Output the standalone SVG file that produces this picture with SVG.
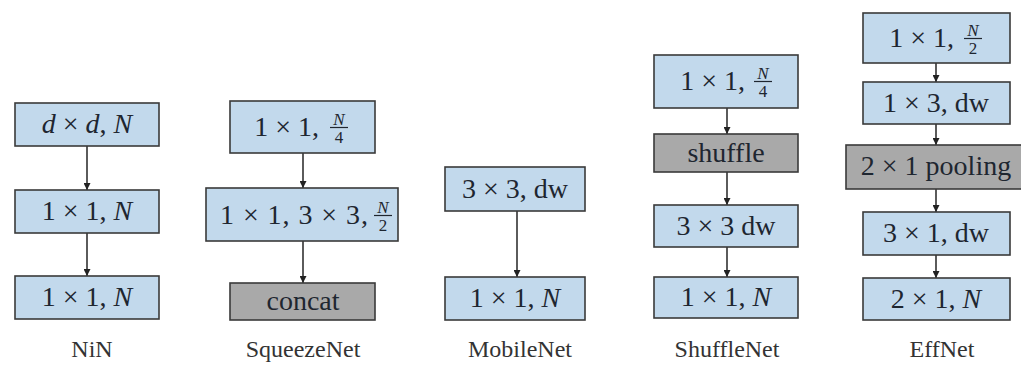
<svg xmlns="http://www.w3.org/2000/svg" width="1021" height="369" viewBox="0 0 1021 369" font-family="Liberation Serif, DejaVu Serif, Times New Roman, serif">
<defs>
<style>
text{fill:#1e2630}
.b{fill:#c2d9ec;stroke:#3a3a3a;stroke-width:1.6}
.g{fill:#a9a9a9;stroke:#3a3a3a;stroke-width:1.6}
.t{font-size:28px;text-anchor:middle}
.te{font-size:28px;text-anchor:end}
.f{font-size:17px;text-anchor:middle}
.i{font-style:italic}
.lb{font-size:24px;fill:#333;text-anchor:middle}
.fb{stroke:#1e2630;stroke-width:1.2}
.c{stroke:#333;stroke-width:1.6;fill:none;marker-end:url(#ah)}
</style>
<marker id="ah" viewBox="0 0 10 10" refX="10" refY="5" markerWidth="7" markerHeight="7" markerUnits="userSpaceOnUse" orient="auto">
<path d="M0,0 L10,5 L0,10 z" fill="#222"/>
</marker>
</defs>
<rect width="1021" height="369" fill="#ffffff"/>

<g id="connectors">
<line class="c" x1="87" y1="146" x2="87" y2="190"/>
<line class="c" x1="87" y1="233" x2="87" y2="276"/>
<line class="c" x1="303" y1="153" x2="303" y2="188"/>
<line class="c" x1="303" y1="241" x2="303" y2="283"/>
<line class="c" x1="517" y1="211" x2="517" y2="277"/>
<line class="c" x1="727" y1="108" x2="727" y2="134"/>
<line class="c" x1="727" y1="172" x2="727" y2="205"/>
<line class="c" x1="727" y1="247" x2="727" y2="277"/>
<line class="c" x1="936" y1="63" x2="936" y2="82"/>
<line class="c" x1="936" y1="124" x2="936" y2="145"/>
<line class="c" x1="936" y1="189" x2="936" y2="212"/>
<line class="c" x1="936" y1="255" x2="936" y2="278"/>
</g>

<!-- NiN -->
<g id="nin-1"><rect class="b" x="15" y="103" width="144" height="43"/><text class="t" x="87" y="133"><tspan class="i">d</tspan> × <tspan class="i">d</tspan>, <tspan class="i">N</tspan></text></g>
<g id="nin-2"><rect class="b" x="15" y="190" width="144" height="43"/><text class="t" x="87" y="220">1 × 1, <tspan class="i">N</tspan></text></g>
<g id="nin-3"><rect class="b" x="15" y="276" width="144" height="43"/><text class="t" x="87" y="306">1 × 1, <tspan class="i">N</tspan></text></g>
<g id="nin-label"><text class="lb" x="92" y="357">NiN</text></g>

<!-- SqueezeNet -->
<g id="sq-1"><rect class="b" x="230" y="101" width="145" height="52"/><text class="te" x="319" y="136">1 × 1,</text><text class="f i" x="339" y="125">N</text><line class="fb" x1="330" y1="127.5" x2="348" y2="127.5"/><text class="f" x="339" y="143">4</text></g>
<g id="sq-2"><rect class="b" x="206" y="188" width="192" height="53"/><text class="te" x="368" y="224" textLength="148" lengthAdjust="spacing">1 × 1, 3 × 3,</text><text class="f i" x="383" y="213">N</text><line class="fb" x1="374" y1="215.5" x2="392" y2="215.5"/><text class="f" x="383" y="231">2</text></g>
<g id="sq-3"><rect class="g" x="230" y="283" width="145" height="37"/><text class="t" x="303" y="310">concat</text></g>
<g id="sq-label"><text class="lb" x="303" y="357">SqueezeNet</text></g>

<!-- MobileNet -->
<g id="mb-1"><rect class="b" x="445" y="167" width="140" height="44"/><text class="t" x="515" y="198">3 × 3, dw</text></g>
<g id="mb-2"><rect class="b" x="445" y="277" width="140" height="43"/><text class="t" x="515" y="307">1 × 1, <tspan class="i">N</tspan></text></g>
<g id="mb-label"><text class="lb" x="520" y="357">MobileNet</text></g>

<!-- ShuffleNet -->
<g id="sh-1"><rect class="b" x="654" y="55" width="144" height="53"/><text class="te" x="745" y="90">1 × 1,</text><text class="f i" x="763" y="79">N</text><line class="fb" x1="754" y1="81.5" x2="772" y2="81.5"/><text class="f" x="763" y="97">4</text></g>
<g id="sh-2"><rect class="g" x="654" y="134" width="144" height="38"/><text class="t" x="726" y="162">shuffle</text></g>
<g id="sh-3"><rect class="b" x="654" y="205" width="144" height="42"/><text class="t" x="726" y="235">3 × 3 dw</text></g>
<g id="sh-4"><rect class="b" x="654" y="277" width="144" height="41"/><text class="t" x="726" y="306">1 × 1, <tspan class="i">N</tspan></text></g>
<g id="sh-label"><text class="lb" x="727" y="357">ShuffleNet</text></g>

<!-- EffNet -->
<g id="ef-1"><rect class="b" x="863" y="13" width="147" height="50"/><text class="te" x="954" y="47">1 × 1,</text><text class="f i" x="973" y="36">N</text><line class="fb" x1="964" y1="38.5" x2="982" y2="38.5"/><text class="f" x="973" y="54">2</text></g>
<g id="ef-2"><rect class="b" x="863" y="82" width="147" height="42"/><text class="t" x="936" y="112">1 × 3, dw</text></g>
<g id="ef-3"><rect class="g" x="846" y="145" width="180" height="44"/><text class="t" x="936" y="175">2 × 1 pooling</text></g>
<g id="ef-4"><rect class="b" x="863" y="212" width="147" height="43"/><text class="t" x="936" y="242">3 × 1, dw</text></g>
<g id="ef-5"><rect class="b" x="863" y="278" width="147" height="42"/><text class="t" x="936" y="308">2 × 1, <tspan class="i">N</tspan></text></g>
<g id="ef-label"><text class="lb" x="942" y="357">EffNet</text></g>
</svg>
